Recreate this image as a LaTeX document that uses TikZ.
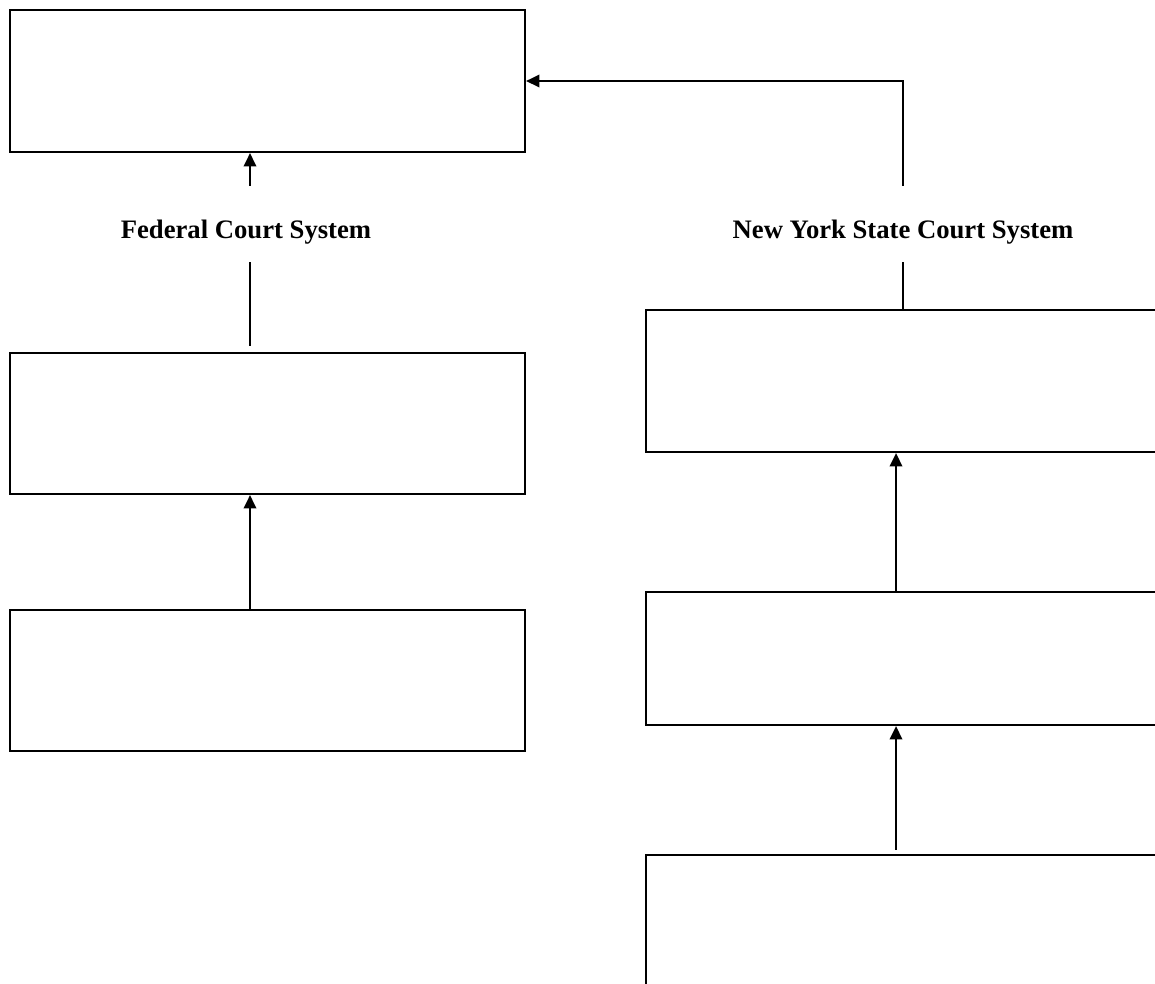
\documentclass[tikz,border=0pt]{standalone}
\usepackage{fontspec}
\setmainfont{Liberation Serif}
\usepackage{tikz}
\usetikzlibrary{positioning, arrows.meta, calc}

\begin{document}
\begin{tikzpicture}[
        x=0.75pt, y=-0.75pt,
        court/.style={rectangle, draw, line width=1.7pt, minimum width=386.25pt, inner sep=0pt},
        system/.style={font=\bfseries\fontsize{20}{24}\selectfont, minimum height=57pt,
            text height=25.6pt, text depth=4.3pt, inner sep=0pt},
        link/.style={line width=1.3pt},
        uplink/.style={link, -{Triangle[length=10pt, width=9.5pt]}}
    ]
    \useasboundingbox (0,0) rectangle (1155,983);
    \clip (0,0) rectangle (1155,983);

    % Federal Court System (left column)
    \node[court, minimum height=106.5pt] (fedtop) at (267.5, 81)    {};
    \node[court, minimum height=105.75pt] (fedmid) at (267.5, 423.5) {};
    \node[court, minimum height=105.75pt] (fedlow) at (267.5, 680.5) {};
    \node[system] (fedname) at (246, 224) {Federal Court System};
    \coordinate (fedx) at (250, 0);

    % New York State Court System (right column, cut at the page edge)
    \node[court, minimum height=106.5pt] (nytop) at (903.5, 381)   {};
    \node[court, minimum height=99.75pt] (nymid) at (903.5, 658.5) {};
    \node[court, minimum height=106.5pt] (nylow) at (903.5, 926)   {};
    \node[system] (nyname) at (903, 224) {New York State Court System};
    \coordinate (nyx) at (903, 0);
    \coordinate (nyarr) at (896, 0);

    % --------------------------------------------------
    % appeals, left column
    \draw[link, shorten <=4.5pt] (fedmid.north -| fedx) -- (fedname.south -| fedx);
    \draw[uplink] (fedname.north -| fedx) -- (fedtop.south -| fedx);
    \draw[uplink] (fedlow.north -| fedx) -- (fedmid.south -| fedx);

    % --------------------------------------------------
    % appeals, right column
    \draw[link] (nytop.north -| nyx) -- (nyname.south -| nyx);
    \draw[uplink] (nyname.north -| nyx) |- (fedtop.east);
    \draw[uplink] (nymid.north -| nyarr) -- (nytop.south -| nyarr);
    \draw[uplink, shorten <=3pt] (nylow.north -| nyarr) -- (nymid.south -| nyarr);

\end{tikzpicture}
\end{document}
